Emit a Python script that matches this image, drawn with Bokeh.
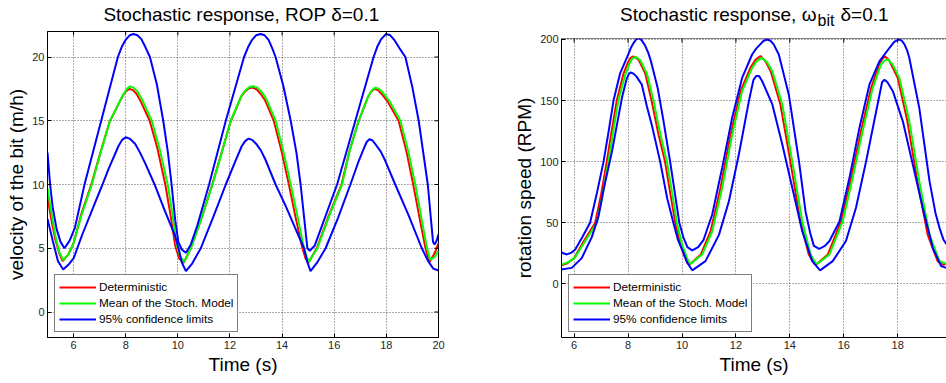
import math
from bokeh.plotting import figure
from bokeh.layouts import row, column
from bokeh.models import (Range1d, Label, Legend, LegendItem, FixedTicker, Span)
from bokeh.embed import file_html
from bokeh.resources import INLINE

FONT = "Liberation Sans"

# ---------------- ticks ----------------
x_ticks = [6, 8, 10, 12, 14, 16, 18, 20]
rop_ticks = [0, 5, 10, 15, 20]
rpm_ticks = [0, 50, 100, 150, 200]

# ---------------- data: ROP (left panel) ----------------
rop_det_t = [5.0, 5.15, 5.3, 5.45, 5.58, 5.8, 6.0, 6.3, 6.68, 7.03, 7.38, 7.77, 7.93, 8.03,
             8.15, 8.28, 8.42, 8.58, 8.92, 9.22, 9.52, 9.72, 9.9, 10.05, 10.22, 10.5, 10.9,
             11.32, 11.68, 12.02, 12.43, 12.58, 12.73, 12.88, 13.03, 13.18, 13.35, 13.68,
             13.98, 14.26, 14.52, 14.78, 14.9, 15.0, 15.33, 15.78, 16.28, 16.58, 16.92, 17.28,
             17.42, 17.55, 17.68, 17.82, 18.05, 18.47, 18.78, 19.03, 19.28, 19.5, 19.65,
             19.85, 20.0]
rop_det_v = [9.0, 7.2, 5.7, 4.6, 4.0, 4.5, 5.4, 7.7, 10.0, 12.5, 14.9, 16.5, 17.1, 17.35,
             17.5, 17.4, 17.1, 16.5, 15.0, 12.8, 10.0, 7.6, 5.2, 4.2, 3.85, 5.0, 7.3,
             10.0, 12.5, 14.9, 16.9, 17.3, 17.55, 17.6, 17.45, 17.1, 16.6, 15.0,
             12.6, 10.0, 7.4, 5.0, 4.2, 3.85, 5.0, 7.5, 10.0, 12.6, 14.9, 16.8,
             17.3, 17.5, 17.4, 17.1, 16.5, 15.0, 12.5, 10.0, 7.3, 5.0, 3.9,
             4.6, 5.4]

rop_mean_t = [5.0, 5.15, 5.3, 5.45, 5.6, 5.8, 6.0, 6.32, 6.70, 7.05, 7.40, 7.79, 7.95, 8.05,
              8.17, 8.3, 8.45, 8.62, 9.0, 9.3, 9.61, 9.8, 9.95, 10.1, 10.25, 10.5, 10.9,
              11.33, 11.7, 12.03, 12.45, 12.6, 12.75, 12.9, 13.05, 13.2, 13.4, 13.75, 14.05,
              14.33, 14.6, 14.84, 14.95, 15.03, 15.35, 15.8, 16.3, 16.6, 16.94, 17.3, 17.45,
              17.58, 17.72, 17.85, 18.1, 18.54, 18.85, 19.11, 19.35, 19.56, 19.68, 19.85, 20.0]
rop_mean_v = [9.7, 7.8, 6.0, 4.7, 4.07, 4.5, 5.4, 7.7, 10.0, 12.6, 15.0, 16.6, 17.2, 17.5,
              17.7, 17.6, 17.3, 16.7, 15.0, 12.8, 10.0, 7.6, 5.3, 4.3, 3.93, 5.0, 7.3,
              10.0, 12.6, 15.0, 17.0, 17.4, 17.65, 17.7, 17.6, 17.3, 16.7, 15.0, 12.6,
              10.0, 7.4, 5.0, 4.3, 3.93, 5.0, 7.5, 10.0, 12.7, 15.0, 16.9, 17.4,
              17.6, 17.5, 17.25, 16.6, 15.0, 12.5, 10.0, 7.3, 5.0, 4.1, 4.3, 4.8]

rop_hi_t = [5.0, 5.1, 5.2, 5.35, 5.5, 5.65, 5.85, 6.05, 6.42, 7.06, 7.70, 7.85, 8.0, 8.15,
            8.30, 8.45, 8.6, 8.75, 8.93, 9.2, 9.44, 9.62, 9.76, 9.9, 10.02, 10.15, 10.31,
            10.5, 10.75, 11.2, 11.84, 12.54, 12.7, 12.85, 13.0, 13.18, 13.33, 13.48, 13.62,
            13.75, 14.05, 14.33, 14.55, 14.71, 14.85, 14.97, 15.06, 15.25, 15.5, 16.11,
            16.81, 17.51, 17.65, 17.8, 17.99, 18.15, 18.3, 18.5, 18.73, 19.0, 19.24, 19.45,
            19.59, 19.7, 19.79, 19.85, 19.93, 20.0]
rop_hi_v = [12.5, 10.0, 8.2, 6.5, 5.5, 5.0, 5.6, 6.6, 10.0, 15.0, 20.0, 20.8, 21.35, 21.7,
            21.8, 21.7, 21.4, 20.8, 20.0, 17.8, 15.0, 12.5, 10.0, 7.2, 5.5, 4.9, 4.64,
            5.3, 6.8, 10.0, 15.0, 20.0, 20.8, 21.35, 21.7, 21.8, 21.7, 21.35, 20.7,
            20.0, 17.7, 15.0, 12.5, 10.0, 7.3, 5.0, 4.8, 5.2, 6.6, 10.0,
            15.0, 20.0, 20.8, 21.4, 21.8, 21.7, 21.35, 20.7, 20.0, 17.6, 15.0, 12.0,
            10.0, 7.5, 5.5, 5.3, 5.6, 6.1]

rop_lo_t = [5.0, 5.2, 5.4, 5.6, 5.8, 6.0, 6.32, 6.83, 7.11, 7.34, 7.72, 7.86, 8.0, 8.15,
            8.36, 8.55, 8.74, 9.13, 9.51, 9.89, 10.04, 10.15, 10.31, 10.55, 10.88, 11.35,
            11.84, 12.2, 12.45, 12.58, 12.71, 12.85, 13.0, 13.18, 13.35, 13.75, 14.14, 14.5,
            14.84, 14.97, 15.09, 15.35, 15.67, 16.15, 16.62, 16.95, 17.15, 17.25, 17.35,
            17.47, 17.6, 17.78, 17.95, 18.34, 18.85, 19.36, 19.6, 19.8, 20.0]
rop_lo_v = [7.3, 5.6, 4.0, 3.33, 3.7, 4.2, 6.0, 8.6, 10.0, 11.2, 13.0, 13.5, 13.7, 13.6,
            13.2, 12.5, 11.7, 9.9, 7.9, 6.0, 4.9, 3.9, 3.2, 3.8, 5.0, 7.4,
            10.0, 11.8, 13.0, 13.4, 13.6, 13.5, 13.2, 12.7, 12.0, 10.0, 8.3, 6.6,
            5.0, 3.9, 3.2, 3.9, 5.0, 7.4, 10.0, 11.9, 12.9, 13.35, 13.55,
            13.45, 13.1, 12.6, 11.9, 10.0, 7.6, 5.0, 4.0, 3.4, 3.25]

# ---------------- data: omega_bit (right panel) ----------------
om_det_t = [5.5, 5.75, 6.0, 6.36, 6.78, 6.99, 7.21, 7.39, 7.58, 7.83, 7.99, 8.08, 8.17, 8.28,
            8.4, 8.64, 8.87, 9.13, 9.37, 9.58, 9.75, 9.94, 10.06, 10.2, 10.28, 10.7, 11.06,
            11.43, 11.8, 12.17, 12.54, 12.73, 12.91, 13.1, 13.29, 13.65, 14.02, 14.39, 14.7,
            14.9, 14.98, 15.41, 15.9, 16.27, 16.64, 17.01, 17.32, 17.43, 17.53, 17.68, 18.0,
            18.36, 18.73, 19.11, 19.48, 19.68, 19.85, 20.0]
om_det_v = [15.0, 16.8, 21.0, 35, 50, 72, 100, 125, 150, 172, 181, 184.5, 186, 185.5,
            183, 172, 150, 122, 100, 72, 50, 32, 24, 17, 15.8, 24, 43,
            78.6, 122, 157.7, 177, 183.5, 186.5, 182, 174, 146.8, 100, 51, 24,
            16.5, 15.8, 24, 51, 86.7, 125, 160, 180, 184, 186, 183, 168.6,
            133, 84, 40.3, 18.5, 15.5, 16.5, 18]

om_mean_t = [5.5, 5.79, 6.04, 6.41, 6.84, 7.05, 7.27, 7.45, 7.64, 7.89, 8.05, 8.14, 8.23,
             8.34, 8.45, 8.7, 8.94, 9.2, 9.44, 9.65, 9.81, 10.0, 10.12, 10.25, 10.32, 10.75,
             11.12, 11.49, 11.86, 12.23, 12.6, 12.78, 12.95, 13.15, 13.35, 13.72, 14.09,
             14.46, 14.77, 14.95, 15.03, 15.47, 15.96, 16.33, 16.7, 17.07, 17.38, 17.5,
             17.63, 17.8, 18.06, 18.43, 18.8, 19.18, 19.55, 19.8, 20.0]
om_mean_v = [15.5, 17.7, 21.8, 35, 50, 72, 100, 125, 150, 171, 180, 184, 185.5,
             185, 183, 172, 150, 122, 100, 72, 50, 32, 25, 17.5, 16.4, 24,
             43, 78.6, 122, 157.7, 176.8, 182.5, 185, 181.5, 174, 146.8, 100,
             51, 24, 17, 16.4, 24, 51, 86.7, 125, 160, 179.5, 182.5,
             183.6, 180, 168.6, 133, 84, 40.3, 18.5, 16.4, 17.5]

om_hi_t = [5.5, 5.6, 5.73, 5.9, 6.04, 6.3, 6.59, 6.85, 7.09, 7.28, 7.46, 7.7, 8.01, 8.1,
           8.2, 8.3, 8.39, 8.5, 8.63, 8.75, 8.85, 9.1, 9.3, 9.56, 9.75, 9.9, 10.05, 10.2,
           10.38, 10.6, 10.8, 11.12, 11.49, 11.86, 12.23, 12.6, 12.75, 12.9, 13.03, 13.16,
           13.28, 13.4, 13.59, 13.96, 14.34, 14.58, 14.75, 14.89, 15.09, 15.3, 15.47, 15.84,
           16.21, 16.58, 16.95, 17.32, 17.69, 17.87, 18.04, 18.15, 18.25, 18.35, 18.43,
           18.8, 19.18, 19.4, 19.55, 19.7, 19.85, 20.0]
om_hi_v = [26, 25, 24, 25.5, 28, 38, 50, 75, 100, 125, 150, 172, 188, 193,
           197, 200, 201, 199.5, 195, 189, 182, 160, 135, 100, 72, 50, 38, 30,
           27.3, 30, 36, 56.7, 95, 136, 168.6, 187.7, 192.5, 196, 199, 200,
           199, 196, 187.7, 155, 100, 59.4, 42, 31, 28.6, 31, 35, 51,
           86.7, 127.6, 163, 182, 193, 198, 200, 199, 196, 191, 185,
           144, 84, 58, 45.8, 36, 31, 29]

om_lo_t = [5.5, 5.91, 6.28, 6.65, 6.9, 7.1, 7.4, 7.77, 7.95, 8.02, 8.09, 8.2, 8.3, 8.51,
           8.7, 8.88, 9.19, 9.45, 9.68, 9.85, 10.06, 10.2, 10.38, 10.87, 11.37, 11.74,
           12.11, 12.48, 12.65, 12.75, 12.86, 12.97, 13.35, 13.72, 14.09, 14.46, 14.83,
           15.12, 15.59, 16.08, 16.45, 16.83, 17.2, 17.42, 17.51, 17.62, 17.82, 18.19,
           18.56, 18.93, 19.3, 19.61, 19.8, 20.0]
om_lo_v = [11.7, 13, 21, 38, 55, 78, 108, 152, 168, 171.5, 173, 172, 170, 163,
           145, 130, 100, 70, 50, 36, 25, 17, 11, 18.5, 40, 67.6,
           106, 149.5, 167, 170, 170, 166, 146.8, 114, 78.6, 43, 18.5,
           11, 18.5, 35, 62, 100.4, 141, 165, 167, 165, 157.7, 133,
           97.7, 62, 29.4, 14.4, 13, 12.5]

RED = "#ff0000"
GREEN = "#00ff00"
BLUE = "#0000ff"
INK = "#000000"
TICK_INK = "#262626"


def style_axes(p, yticks):
    xt = FixedTicker(ticks=x_ticks)
    yt = FixedTicker(ticks=yticks)
    for ax, t in ((p.xaxis[0], xt), (p.yaxis[0], yt)):
        ax.ticker = t
        ax.major_tick_in = 4
        ax.major_tick_out = 0
        ax.minor_tick_in = 0
        ax.minor_tick_out = 0
        ax.axis_line_color = INK
        ax.major_tick_line_color = INK
        ax.major_label_text_font = FONT
        ax.major_label_text_font_size = "11px"
        ax.major_label_text_color = TICK_INK
        ax.major_label_standoff = 3
        ax.axis_label_text_font = FONT
        ax.axis_label_text_font_size = "19px"
        ax.axis_label_text_font_style = "normal"
        ax.axis_label_text_color = INK
        ax.axis_label_standoff = 2
    p.xgrid.ticker = xt
    p.ygrid.ticker = yt
    for g in (p.xgrid[0], p.ygrid[0]):
        g.grid_line_color = "#000000"
        g.grid_line_alpha = 0.65
        g.grid_line_dash = "1 2"
        g.grid_line_width = 1


def edge_ticks(p, top_value, right_value, yticks):
    # inward tick marks on the top (and right) frame edges; the outer half
    # of each dash falls outside the frame and is clipped away
    p.scatter(x_ticks, [top_value] * len(x_ticks), marker="dash", size=8,
              angle=math.pi / 2, line_color=INK, line_width=1)
    if right_value is not None:
        p.scatter([right_value] * len(yticks), yticks, marker="dash", size=8,
                  line_color=INK, line_width=1)


def add_legend(p, rr, rg, rb):
    leg = Legend(items=[LegendItem(label="Deterministic", renderers=[rr]),
                        LegendItem(label="Mean of the Stoch. Model", renderers=[rg]),
                        LegendItem(label="95% confidence limits", renderers=[rb])],
                 location=(7, 5), margin=0, padding=4, spacing=0,
                 glyph_width=37, glyph_height=16, label_height=16,
                 label_standoff=3, label_text_font=FONT,
                 label_text_font_size="11.8px", label_text_color=INK,
                 border_line_color=INK, border_line_width=1,
                 background_fill_color="white", background_fill_alpha=1.0)
    p.add_layout(leg)


def title_strip(width, height):
    t = figure(width=width, height=height, x_range=Range1d(0, 1), y_range=Range1d(0, 1),
               x_axis_location=None, y_axis_location=None,
               min_border_left=0, min_border_right=0, min_border_top=0, min_border_bottom=0,
               outline_line_color=None, output_backend="svg", toolbar_location=None,
               background_fill_color="white", border_fill_color="white")
    t.xgrid.visible = False
    t.ygrid.visible = False
    return t


def tlabel(text, x, y, size, align):
    return Label(x=x, y=y, x_units="screen", y_units="screen", text=text,
                 text_align=align, text_baseline="alphabetic", text_font=FONT,
                 text_font_size=size, text_color=INK)


# ---------------- left panel ----------------
p1 = figure(frame_width=391, frame_height=306, min_border_left=47, min_border_right=63,
            min_border_top=1, min_border_bottom=46,
            x_range=Range1d(5, 20), y_range=Range1d(-2, 22),
            output_backend="svg", toolbar_location=None,
            background_fill_color="white", border_fill_color="white",
            outline_line_color=INK, x_axis_label="Time (s)",
            y_axis_label="velocity of the bit (m/h)")
style_axes(p1, rop_ticks)
r1 = p1.line(rop_det_t, rop_det_v, line_color=RED, line_width=2)
g1 = p1.line(rop_mean_t, rop_mean_v, line_color=GREEN, line_width=2)
b1 = p1.line(rop_hi_t, rop_hi_v, line_color=BLUE, line_width=2)
p1.line(rop_lo_t, rop_lo_v, line_color=BLUE, line_width=2)
edge_ticks(p1, p1.y_range.end, p1.x_range.end, rop_ticks)
add_legend(p1, r1, g1, b1)

# title strip: its frame lines up with the plot frame below (x 47..438)
t1 = title_strip(501, 30)
t1.add_layout(tlabel("Stochastic response, ROP \u03b4=0.1", 194, 16.3, "19px", "center"))

# ---------------- right panel ----------------
p2 = figure(frame_width=385, frame_height=299, min_border_left=60, min_border_right=0,
            min_border_top=8, min_border_bottom=46,
            x_range=Range1d(5.53, 19.81), y_range=Range1d(-44, 200.8),
            output_backend="svg", toolbar_location=None,
            background_fill_color="white", border_fill_color="white",
            outline_line_color=None, x_axis_label="Time (s)",
            y_axis_label="rotation speed (RPM)")
style_axes(p2, rpm_ticks)
r2 = p2.line(om_det_t, om_det_v, line_color=RED, line_width=2)
g2 = p2.line(om_mean_t, om_mean_v, line_color=GREEN, line_width=2)
b2 = p2.line(om_hi_t, om_hi_v, line_color=BLUE, line_width=2)
p2.line(om_lo_t, om_lo_v, line_color=BLUE, line_width=2)
edge_ticks(p2, p2.y_range.end, None, rpm_ticks)
p2.add_layout(Span(location=p2.y_range.end, dimension="width", line_color=INK,
                   line_width=1))
add_legend(p2, r2, g2, b2)

# title strip: its frame lines up with the plot frame below (x 561..946)
t2 = title_strip(445, 30)
t2.add_layout(tlabel("Stochastic response, \u03c9", 255, 16.3, "19px", "right"))
t2.add_layout(tlabel("bit", 256, 10.5, "16px", "left"))
t2.add_layout(tlabel("\u03b4=0.1", 279, 16.3, "19px", "left"))

layout = row(column(t1, p1), column(t2, p2))
open("out.html", "w").write(file_html(layout, INLINE))
